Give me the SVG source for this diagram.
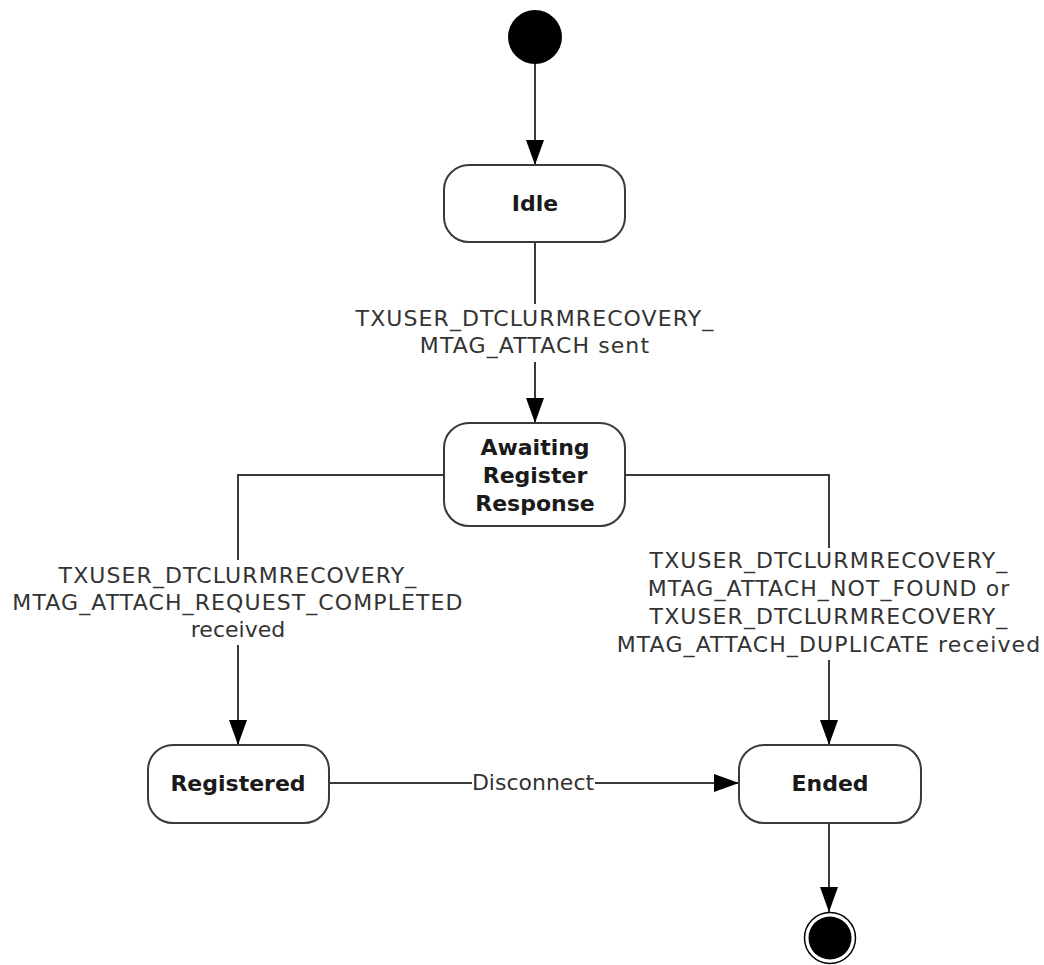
<svg xmlns="http://www.w3.org/2000/svg" width="1044" height="965" viewBox="0 0 1044 965">
<defs>
<style>
.state{fill:#fff;stroke:#3a3a3a;stroke-width:2}
.name{font-family:"DejaVu Sans",Verdana,sans-serif;font-weight:bold;font-size:22px;fill:#1a1a1a;text-anchor:middle}
.lbl{font-family:"DejaVu Sans",Verdana,sans-serif;font-size:22px;fill:#333;text-anchor:middle}
.caps{letter-spacing:1.1px}
.edge{fill:none;stroke:#3a3a3a;stroke-width:2}
</style>
<marker id="arr" viewBox="0 0 25 18" refX="25" refY="9" markerWidth="25" markerHeight="18" markerUnits="userSpaceOnUse" orient="auto">
<path d="M0,0 L25,9 L0,18 Z" fill="#000"/>
</marker>
</defs>
<rect width="1044" height="965" fill="#fff"/>
<g id="connectors">
<path class="edge" d="M535,64 L535,165" marker-end="url(#arr)"/>
<path class="edge" d="M535,242 L535,304"/>
<path class="edge" d="M535,362 L535,423" marker-end="url(#arr)"/>
<path class="edge" d="M444,475 L238,475 L238,560"/>
<path class="edge" d="M238,645 L238,745" marker-end="url(#arr)"/>
<path class="edge" d="M625,475 L829,475 L829,548"/>
<path class="edge" d="M829,660 L829,745" marker-end="url(#arr)"/>
<path class="edge" d="M329,783 L472,783"/>
<path class="edge" d="M595,783 L739,783" marker-end="url(#arr)"/>
<path class="edge" d="M829,823 L829,912" marker-end="url(#arr)"/>
<text class="lbl"><tspan class="caps" x="535" y="326">TXUSER_DTCLURMRECOVERY_</tspan><tspan class="caps" x="535" y="353">MTAG_ATTACH sent</tspan></text>
<text class="lbl"><tspan class="caps" x="238" y="583">TXUSER_DTCLURMRECOVERY_</tspan><tspan class="caps" x="238" y="610">MTAG_ATTACH_REQUEST_COMPLETED</tspan><tspan x="238" y="637">received</tspan></text>
<text class="lbl"><tspan class="caps" x="829" y="568">TXUSER_DTCLURMRECOVERY_</tspan><tspan class="caps" x="829" y="596">MTAG_ATTACH_NOT_FOUND or</tspan><tspan class="caps" x="829" y="624">TXUSER_DTCLURMRECOVERY_</tspan><tspan class="caps" x="829" y="652">MTAG_ATTACH_DUPLICATE received</tspan></text>
<text class="lbl" x="533" y="790">Disconnect</text>
</g>
<g id="start"><circle cx="535" cy="37" r="27" fill="#000"/></g>
<g id="idle"><rect class="state" x="444" y="165" width="181" height="77" rx="25"/><text class="name" x="535" y="211">Idle</text></g>
<g id="awaiting"><rect class="state" x="444" y="423" width="181" height="103" rx="25"/><text class="name"><tspan x="535" y="455">Awaiting</tspan><tspan x="535" y="483">Register</tspan><tspan x="535" y="511">Response</tspan></text></g>
<g id="registered"><rect class="state" x="148" y="745" width="181" height="78" rx="25"/><text class="name" x="238" y="791">Registered</text></g>
<g id="ended"><rect class="state" x="739" y="745" width="182" height="78" rx="25"/><text class="name" x="830" y="791">Ended</text></g>
<g id="final"><circle cx="830" cy="938" r="25.5" fill="#fff" stroke="#000" stroke-width="1.5"/><circle cx="830" cy="938" r="21.5" fill="#000"/></g>
</svg>
